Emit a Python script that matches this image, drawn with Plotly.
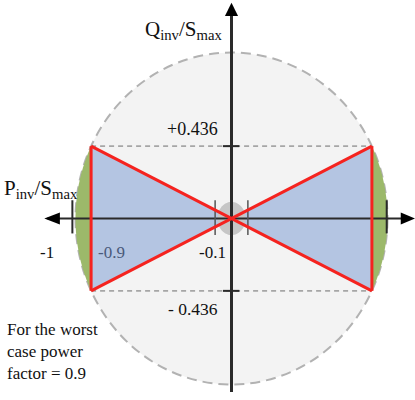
import numpy as np
import plotly.graph_objects as go

# ---- data ----
S_MAX = 1.0                 # capability circle radius (per unit)
PF_WORST = 0.9              # worst case power factor
P_LIMITS = [-0.9, 0.9]      # active power limits (P/Smax)
Q_LIMITS = [-0.436, 0.436]  # reactive power limits (Q/Smax)
P_DEADBAND = [-0.1, 0.1]    # small region around origin
Q_TICKS = [0.436, -0.436]
Q_TICK_LABELS = ["+0.436", "- 0.436"]
P_TICK_VALUES = [-1.0, -0.9, -0.1]
P_TICK_LABELS = ["-1", "-0.9", "-0.1"]
NOTE_LINES = ["For the worst", "case power", "factor = 0.9"]

# ---- styling ----
FONT = "Liberation Serif"
RED = "#f5231f"
BLUE = "#b4c5e2"
GREEN = "#9cb96a"
CIRCLE_FILL = "#f3f3f3"
AXIS = "#2a2a2a"

X_RANGE = [-1.484, 1.1763]
Y_RANGE = [-1.0934, 1.3163]

fig = go.Figure()


def line_trace(xs, ys, color, width, dash="solid"):
    fig.add_trace(go.Scatter(x=xs, y=ys, mode="lines",
                             line=dict(color=color, width=width, dash=dash),
                             hoverinfo="skip", showlegend=False))


def fill_trace(xs, ys, color):
    fig.add_trace(go.Scatter(x=xs, y=ys, fill="toself", fillcolor=color, mode="none",
                             hoverinfo="skip", showlegend=False))


# capability circle
fig.add_shape(type="circle", xref="x", yref="y",
              x0=-S_MAX, x1=S_MAX, y0=-S_MAX, y1=S_MAX,
              fillcolor=CIRCLE_FILL, line=dict(color="#b2b2b2", width=2, dash="10px,6px"),
              layer="below")

# green caps beyond |P| > 0.9
theta_max = np.arccos(P_LIMITS[1] / S_MAX)
th = np.linspace(-theta_max, theta_max, 60)
for side in (-1, 1):
    cx = side * S_MAX * np.cos(th)
    cy = S_MAX * np.sin(th)
    fill_trace(list(cx) + [cx[0]], list(cy) + [cy[0]], GREEN)

# blue triangles (bow-tie)
for p in P_LIMITS:
    fill_trace([0, p, p, 0], [0, Q_LIMITS[1], Q_LIMITS[0], 0], BLUE)

# dashed Q-limit lines
for q in Q_LIMITS:
    line_trace([P_LIMITS[0], P_LIMITS[1]], [q, q], "#a6a6a6", 1.8, "5px,4px")

# gray dead band circle
t = np.linspace(0, 2 * np.pi, 60)
fill_trace(list(P_DEADBAND[1] * 0.9 * np.cos(t)), list(0.1 * np.sin(t)), "#c6c6c6")

# axes
line_trace([-1.18, 1.09], [0, 0], AXIS, 2)
line_trace([0, 0], [-1.045, 1.22], AXIS, 3)

# ticks at +-1, +-0.1 and +-0.436
for xv in (-1.02, 0.995):
    line_trace([xv, xv], [-0.09, 0.11], AXIS, 2)
for xv in P_DEADBAND:
    line_trace([xv * 1.05, xv * 1.05], [-0.1, 0.11], "#555555", 1.5)
for q in Q_TICKS:
    line_trace([-0.055, 0.05], [q, q], AXIS, 2)

# red outline
line_trace([P_LIMITS[0], P_LIMITS[1]], [Q_LIMITS[1], Q_LIMITS[0]], RED, 3)
line_trace([P_LIMITS[0], P_LIMITS[1]], [Q_LIMITS[0], Q_LIMITS[1]], RED, 3)
for p in P_LIMITS:
    line_trace([p, p], [Q_LIMITS[0], Q_LIMITS[1]], RED, 3)

# arrow heads
fig.add_shape(type="path", xref="x", yref="y",
              path="M -1.2 0 L -1.1 0.036 L -1.1 -0.036 Z", fillcolor="black", line=dict(width=0))
fig.add_shape(type="path", xref="x", yref="y",
              path="M 1.1763 0 L 1.085 0.036 L 1.085 -0.036 Z", fillcolor="black", line=dict(width=0))
fig.add_shape(type="path", xref="x", yref="y",
              path="M 0 1.30 L -0.042 1.22 L 0.042 1.22 Z", fillcolor="black", line=dict(width=0))

ann = []


def text(x, y, t, size=17, color="#111111", xanchor="center", yanchor="middle", align="center"):
    ann.append(dict(x=x, y=y, xref="x", yref="y", text=t, showarrow=False,
                    xanchor=xanchor, yanchor=yanchor, align=align,
                    font=dict(family=FONT, size=size, color=color)))


text(-0.045, 1.135, "Q<sub>inv</sub>/S<sub>max</sub>", size=21, xanchor="right")
text(-1.47, 0.175, "P<sub>inv</sub>/S<sub>max</sub>", size=21, xanchor="left")
text(-0.072, Q_TICKS[0] + 0.105, Q_TICK_LABELS[0], size=18, xanchor="right")
text(-0.072, Q_TICKS[1] - 0.11, Q_TICK_LABELS[1], size=17.5, xanchor="right")
text(-1.18, -0.205, P_TICK_LABELS[0], size=17)
text(-0.77, -0.205, P_TICK_LABELS[1], size=17, color="#4a5a7a")
text(-0.02, -0.205, P_TICK_LABELS[2], size=17, xanchor="right")
text(-1.45, -0.6, "<br>".join(NOTE_LINES), size=17, xanchor="left", yanchor="top", align="left")

fig.update_layout(
    width=415, height=400, margin=dict(l=0, r=0, t=0, b=0),
    paper_bgcolor="white", plot_bgcolor="white",
    font=dict(family=FONT),
    xaxis=dict(range=X_RANGE, visible=False, fixedrange=True),
    yaxis=dict(range=Y_RANGE, visible=False, fixedrange=True),
    annotations=ann, showlegend=False,
)

fig.write_html("out.html", config={"displayModeBar": False},
               post_script="document.body.style.margin='0';document.body.style.overflow='hidden';")
